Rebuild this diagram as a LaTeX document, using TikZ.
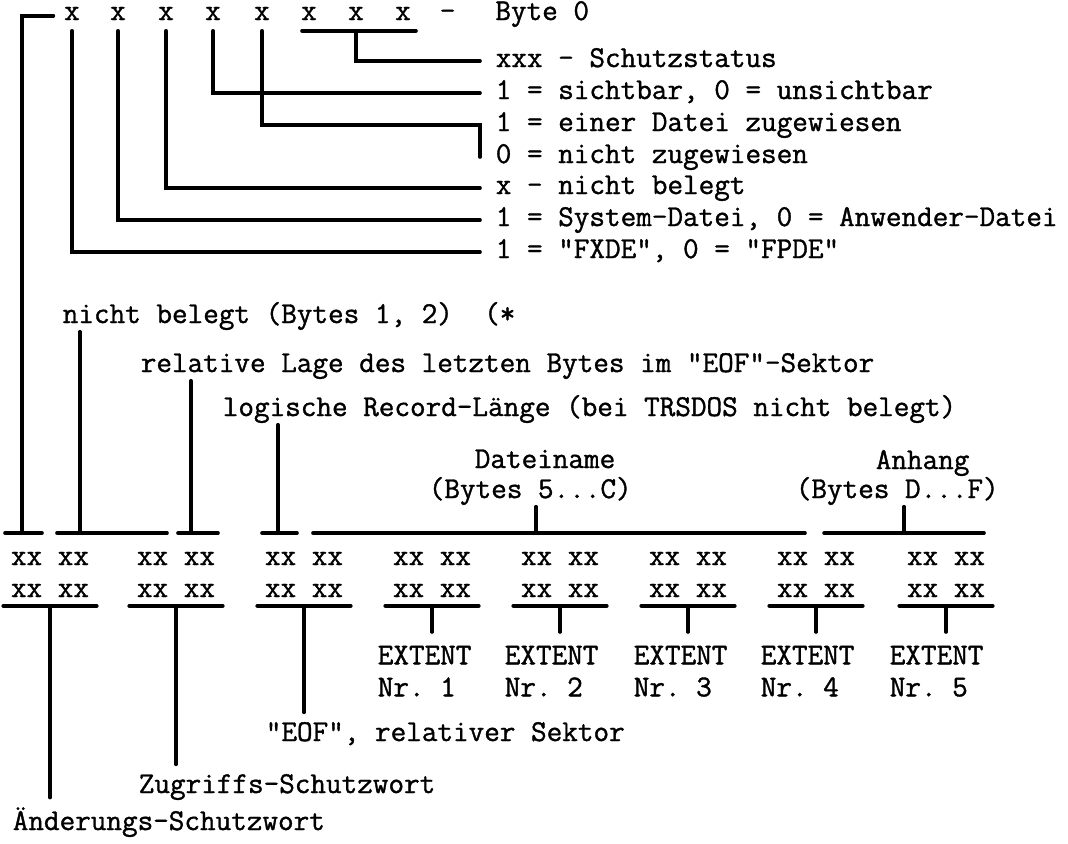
\documentclass[tikz,border=0pt]{standalone}
\usepackage{fontspec}
\setmonofont{Latin Modern Mono}[FakeBold=1.2]
\usepackage{tikz}

\begin{document}
\begin{tikzpicture}[x=0.5pt, y=-0.5pt, line width=1.8pt, line cap=round,
  every node/.style={font=\ttfamily\fontsize{15.15}{16}\selectfont, inner sep=0pt},
  bit/.style={anchor=base, inner xsep=4.5pt, text depth=4.5pt},
  lbl/.style={anchor=west, inner xsep=7pt, text height=6pt, text depth=0pt},
  txt/.style={anchor=base west},
  low/.style={anchor=base west, inner ysep=4pt},
  row/.style={anchor=base, inner ysep=3.5pt},
  ext/.style={anchor=north west, align=left, inner ysep=6pt}]
\useasboundingbox (0,0) rectangle (1068,843);

\node[bit] (b7) at (72,20) {x};
\node[bit] (b6) at (118,20) {x};
\node[bit] (b5) at (166,20) {x};
\node[bit] (b4) at (213,20) {x};
\node[bit] (b3) at (262,20) {x};
\node[bit] (b2) at (309,20) {x};
\node[bit] (b1) at (356,20) {x};
\node[bit] (b0) at (403,20) {x};
\node[txt] (hdr) at (438,20) {-\hspace{20pt}Byte 0};

\node[lbl] (l0) at (480,61) {xxx - Schutzstatus};
\node[lbl] (l4) at (480,93) {1 = sichtbar, 0 = unsichtbar};
\node[lbl] (l3) at (480,125) {1 = einer Datei zugewiesen};
\node[lbl] (l3n) at (480,157) {0 = nicht zugewiesen};
\node[lbl] (l5) at (480,188) {x - nicht belegt};
\node[lbl] (l6) at (480,220) {1 = System-Datei, 0 = Anwender-Datei};
\node[lbl] (l7) at (480,252) {1 = "FXDE", 0 = "FPDE"};

\node[txt] (n1) at (61,323) {nicht belegt (Bytes 1, 2)\ \ (*};
\node[txt] (n2) at (139,372) {relative Lage des letzten Bytes im "EOF"-Sektor};
\node[txt] (n3) at (221,416) {logische Record-Länge (bei TRSDOS nicht belegt)};
\node[txt] (d1) at (473,468) {Dateiname};
\node[txt] (d2) at (427,498) {(Bytes 5...C)};
\node[txt] (a1) at (874,469) {Anhang};
\node[txt] (a2) at (794,498) {(Bytes D...F)};

\coordinate (g1) at (22,533);
\coordinate (g2) at (80,533);
\coordinate (g3) at (191,533);
\coordinate (g4) at (278,533);
\coordinate (g5) at (536,533);
\coordinate (g6) at (904,533);

\node[row] (t1) at (50,565) {xx xx};
\node[row] (t2) at (176,565) {xx xx};
\node[row] (t3) at (304,565) {xx xx};
\node[row] (t4) at (432,565) {xx xx};
\node[row] (t5) at (560,565) {xx xx};
\node[row] (t6) at (688,565) {xx xx};
\node[row] (t7) at (816,565) {xx xx};
\node[row] (t8) at (946,565) {xx xx};
\node[row] (u1) at (50,597) {xx xx};
\node[row] (u2) at (176,597) {xx xx};
\node[row] (u3) at (304,597) {xx xx};
\node[row] (u4) at (432,597) {xx xx};
\node[row] (u5) at (560,597) {xx xx};
\node[row] (u6) at (688,597) {xx xx};
\node[row] (u7) at (816,597) {xx xx};
\node[row] (u8) at (946,597) {xx xx};

\node[ext] (e1) at (376,632) {EXTENT\\Nr. 1};
\node[ext] (e2) at (503,632) {EXTENT\\Nr. 2};
\node[ext] (e3) at (632,632) {EXTENT\\Nr. 3};
\node[ext] (e4) at (759,632) {EXTENT\\Nr. 4};
\node[ext] (e5) at (888,632) {EXTENT\\Nr. 5};
\node[low] (c3) at (264,741) {"EOF", relativer Sektor};
\node[low] (c2) at (137,793) {Zugriffs-Schutzwort};
\node[low] (c1) at (11,830) {Änderungs-Schutzwort};

\draw (b7.mid west) -| (g1);
\draw (b7.south) |- (l7.west);
\draw (b6.south) |- (l6.west);
\draw (b5.south) |- (l5.west);
\draw (b4.south) |- (l4.west);
\draw (b3.south) |- (l3.west) -- (l3n.west);
\draw ([xshift=-3.5pt]b2.south) -- ([xshift=6.5pt]b0.south);
\draw (b1.south) |- (l0.west);

\draw (5,533) -- (42,533);
\draw (57,533) -- (167,533);
\draw (178,533) -- (218,533);
\draw (262,533) -- (297,533);
\draw (313,533) -- (805,533);
\draw (824,533) -- (984,533);
\draw (g2) -- (g2 |- n1.south);
\draw (g3) -- (g3 |- n2.south);
\draw (g4) -- (g4 |- n3.south);
\draw (g5) -- (g5 |- d2.south);
\draw (g6) -- (g6 |- a2.south);

\draw ([xshift=-3pt]u1.south west) -- ([xshift=3pt]u1.south east);
\draw ([xshift=-3pt]u2.south west) -- ([xshift=3pt]u2.south east);
\draw ([xshift=-3pt]u3.south west) -- ([xshift=3pt]u3.south east);
\draw ([xshift=-3pt]u4.south west) -- ([xshift=3pt]u4.south east);
\draw ([xshift=-3pt]u5.south west) -- ([xshift=3pt]u5.south east);
\draw ([xshift=-3pt]u6.south west) -- ([xshift=3pt]u6.south east);
\draw ([xshift=-3pt]u7.south west) -- ([xshift=3pt]u7.south east);
\draw ([xshift=-3pt]u8.south west) -- ([xshift=3pt]u8.south east);
\draw (u1.south) -- (u1.south |- c1.north);
\draw (u2.south) -- (u2.south |- c2.north);
\draw (u3.south) -- (u3.south |- c3.north);
\draw (u4.south) -- (u4.south |- e1.north);
\draw (u5.south) -- (u5.south |- e2.north);
\draw (u6.south) -- (u6.south |- e3.north);
\draw (u7.south) -- (u7.south |- e4.north);
\draw (u8.south) -- (u8.south |- e5.north);
\end{tikzpicture}
\end{document}
